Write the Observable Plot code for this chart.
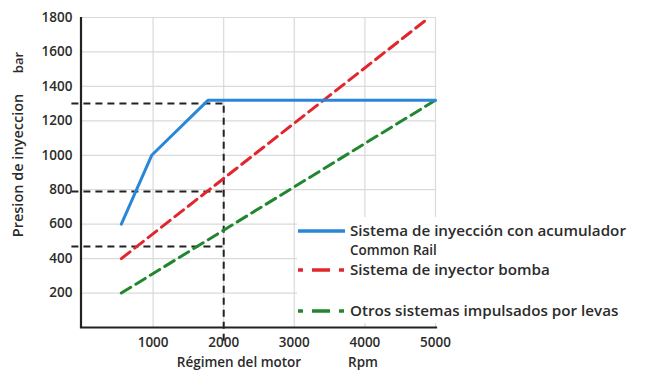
<!DOCTYPE html>
<html>
<head>
<meta charset="utf-8">
<script src="https://cdn.jsdelivr.net/npm/d3@7"></script>
<script src="https://cdn.jsdelivr.net/npm/@observablehq/plot@0.6"></script>
<style>
  html, body { margin: 0; padding: 0; background: #fff; }
  #wrap { position: relative; width: 652px; height: 377px; overflow: hidden; }
  #legend { position: absolute; left: 0; top: 0; pointer-events: none; }
  text { font-family: "Open Sans", sans-serif; }
</style>
</head>
<body>
<div id="wrap"></div>
<script>
// ---- data ----
const xTicks = [1000, 2000, 3000, 4000, 5000];
const yTicks = [200, 400, 600, 800, 1000, 1200, 1400, 1600, 1800];

const rpmCommonRail = [550, 980, 1780, 5000];
const presCommonRail = [600, 1000, 1320, 1320];

const rpmBomba = [550, 4880];
const presBomba = [400, 1790];

const rpmLevas = [550, 5000];
const presLevas = [200, 1320];

const refLevels = [1300, 790, 470];
const refRpm = 2000;
const refLeftRpm = -150;
const refBottomPres = -80;

const seriesNames = [
  ["Sistema de inyección con acumulador", "Common Rail"],
  ["Sistema de inyector bomba"],
  ["Otros sistemas impulsados por levas"]
];
const seriesColors = ["#2a86d6", "#e1262d", "#22862f"];

const yLabel = "Presion de inyeccion";
const yUnit = "bar";
const xLabel = "Régimen del motor";
const xUnit = "Rpm";

// ---- tables ----
const cr = rpmCommonRail.map((r, i) => ({rpm: r, p: presCommonRail[i]}));
const bomba = rpmBomba.map((r, i) => ({rpm: r, p: presBomba[i]}));
const levas = rpmLevas.map((r, i) => ({rpm: r, p: presLevas[i]}));
const hRefs = refLevels.map(v => ({x1: refLeftRpm, x2: refRpm, y: v}));

const txt = {fontFamily: "Open Sans, sans-serif", fontWeight: 600, fill: "#2b2b2b"};

const chart = Plot.plot({
  width: 652,
  height: 377,
  marginLeft: 82,
  marginRight: 217,
  marginTop: 17,
  marginBottom: 50,
  style: {fontFamily: "Open Sans, sans-serif", fontSize: "13.5px", fontWeight: 600, color: "#2b2b2b", background: "#fff"},
  x: {domain: [0, 5000]},
  y: {domain: [0, 1800]},
  marks: [
    Plot.gridX(xTicks, {stroke: "#dadada", strokeOpacity: 1, strokeWidth: 1.2}),
    Plot.gridY(yTicks, {stroke: "#dadada", strokeOpacity: 1, strokeWidth: 1.2}),
    Plot.axisX(xTicks, {tickSize: 0, tickPadding: 10, label: null, fill: "#2b2b2b", tickFormat: d => String(d)}),
    Plot.axisY(yTicks, {tickSize: 0, tickPadding: 10, label: null, fill: "#2b2b2b", tickFormat: d => String(d)}),
    // reference dashed lines
    Plot.ruleY(hRefs, {x1: "x1", x2: "x2", y: "y", stroke: "#222", strokeWidth: 2, strokeDasharray: "7,5"}),
    Plot.ruleX([refRpm], {y1: refBottomPres, y2: refLevels[0], stroke: "#222", strokeWidth: 2, strokeDasharray: "7,5"}),
    // series
    Plot.line(levas, {x: "rpm", y: "p", stroke: seriesColors[2], strokeWidth: 3, strokeDasharray: "11,6"}),
    Plot.line(bomba, {x: "rpm", y: "p", stroke: seriesColors[1], strokeWidth: 3, strokeDasharray: "11,6"}),
    Plot.line(cr, {x: "rpm", y: "p", stroke: seriesColors[0], strokeWidth: 3}),
    // axis lines
    Plot.ruleX([0], {stroke: "#222", strokeWidth: 2.2, dx: -1.5}),
    Plot.ruleY([0], {stroke: "#222", strokeWidth: 2.2, x1: -30, x2: 5030}),
    // axis titles
    Plot.text([yLabel], {text: d => d, frameAnchor: "left", textAnchor: "middle", dx: -64, dy: -7, rotate: -90, fontSize: 14.5, ...txt}),
    Plot.text([yUnit], {text: d => d, frameAnchor: "left", textAnchor: "middle", dx: -64, dy: -110, rotate: -90, fontSize: 13, ...txt}),
    Plot.text([xLabel], {text: d => d, frameAnchor: "bottom", textAnchor: "middle", dx: -20, dy: 39, fontSize: 13.5, ...txt}),
    Plot.text([xUnit], {text: d => d, frameAnchor: "bottom", textAnchor: "middle", dx: 104, dy: 39, fontSize: 13.5, ...txt})
  ]
});

const wrap = document.getElementById("wrap");
wrap.appendChild(chart);

// ---- legend overlay ----
const leg = d3.select(wrap).append("svg")
  .attr("id", "legend").attr("width", 652).attr("height", 377);
leg.append("rect").attr("x", 297).attr("y", 217).attr("width", 355).attr("height", 106).attr("fill", "#fff");

const rows = [
  {y: 231, dash: null},
  {y: 270, dash: "5 9 18 9 5"},
  {y: 311, dash: "5 9 18 9 5"}
];
rows.forEach((r, i) => {
  leg.append("line").attr("x1", 298).attr("x2", 345).attr("y1", r.y).attr("y2", r.y)
    .attr("stroke", seriesColors[i]).attr("stroke-width", 3.5)
    .attr("stroke-dasharray", r.dash);
  seriesNames[i].forEach((s, j) => {
    leg.append("text").attr("x", 350).attr("y", r.y + j * 19.5).attr("dy", "0.35em")
      .attr("font-size", j === 0 ? 15.2 : 13.5).attr("font-weight", 600).attr("fill", "#2b2b2b").text(s);
  });
});
</script>
</body>
</html>
